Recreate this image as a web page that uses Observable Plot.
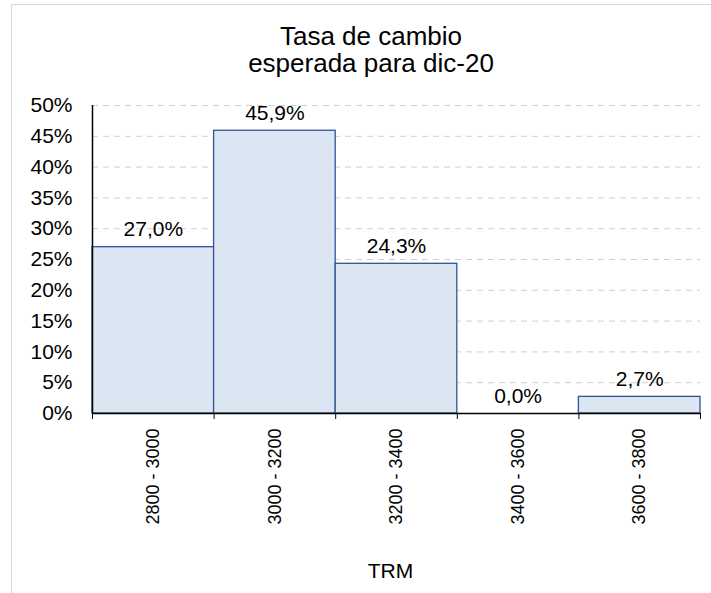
<!DOCTYPE html>
<html><head><meta charset="utf-8">
<script src="https://cdn.jsdelivr.net/npm/d3@7"></script>
<script src="https://cdn.jsdelivr.net/npm/@observablehq/plot@0.6"></script>
<style>
body{margin:0;background:#fff;font-family:"Liberation Sans",Arial,sans-serif;}
#wrap{position:relative;width:711px;height:593px;overflow:hidden;background:#fff;}
#frame{position:absolute;left:11px;top:4px;width:720px;height:620px;border-left:1.5px solid #d9d9d9;border-top:1.5px solid #d9d9d9;box-sizing:border-box;}
#title{position:absolute;left:0;width:742px;top:23px;text-align:center;font-size:26px;line-height:27px;color:#000;}
#chart{position:absolute;left:0;top:0;}
</style></head>
<body>
<div id="wrap">
  <div id="frame"></div>
  <div id="chart"></div>
  <div id="title">Tasa de cambio<br>esperada para dic-20</div>
</div>
<script>
const lowerBounds = [2800, 3000, 3200, 3400, 3600];
const upperBounds = [3000, 3200, 3400, 3600, 3800];
const rangeLabels = ["2800 - 3000", "3000 - 3200", "3200 - 3400", "3400 - 3600", "3600 - 3800"];
const shares = [27.0, 45.9, 24.3, 0.0, 2.7];
const yTicks = [0, 5, 10, 15, 20, 25, 30, 35, 40, 45, 50];
const xTitle = "TRM";

const data = rangeLabels.map((label, i) => ({
  label, lo: lowerBounds[i], hi: upperBounds[i], share: shares[i]
}));
const boundaries = [...lowerBounds, upperBounds[upperBounds.length - 1]];

const chart = Plot.plot({
  width: 711,
  height: 593,
  marginLeft: 92,
  marginRight: 11,
  marginTop: 105,
  marginBottom: 180,
  style: {fontFamily: "'Liberation Sans', Arial, sans-serif", fontSize: "21px", background: "transparent", color: "#000"},
  x: {type: "linear", domain: [2800, 3800], label: null},
  y: {domain: [0, 50], label: null},
  marks: [
    Plot.gridY(yTicks.filter(d => d > 0), {stroke: "#d0d0d0", strokeOpacity: 1, strokeDasharray: "6,5", strokeWidth: 1}),
    Plot.rectY(data, {x1: "lo", x2: "hi", y: "share", fill: "#dce6f2", stroke: "#2f5496", strokeWidth: 1.3}),
    Plot.ruleY([0], {stroke: "#000", strokeWidth: 1.5}),
    Plot.ruleX([2800], {y1: 0, y2: 50, stroke: "#000", strokeWidth: 1.5}),
    Plot.axisX({ticks: boundaries, tickSize: 6, tickFormat: () => "", stroke: "#000", label: null}),
    Plot.axisY({ticks: yTicks, tickSize: 0, tickPadding: 20, tickFormat: d => d + "%", fontSize: 21, fill: "#000", label: null}),
    Plot.text(data, {x: d => (d.lo + d.hi) / 2, y: 0, text: "label", rotate: -90, textAnchor: "end", dy: 15, fontSize: 18, fill: "#000"}),
    Plot.text(data, {x: d => (d.lo + d.hi) / 2, y: "share", text: d => d.share.toFixed(1).replace(".", ",") + "%", dy: -17.5, fontSize: 21, fill: "#000"}),
    Plot.text([xTitle], {frameAnchor: "bottom", dx: -6, dy: 164, fontSize: 21, fill: "#000"})
  ]
});
document.getElementById("chart").appendChild(chart);
</script>
</body></html>
